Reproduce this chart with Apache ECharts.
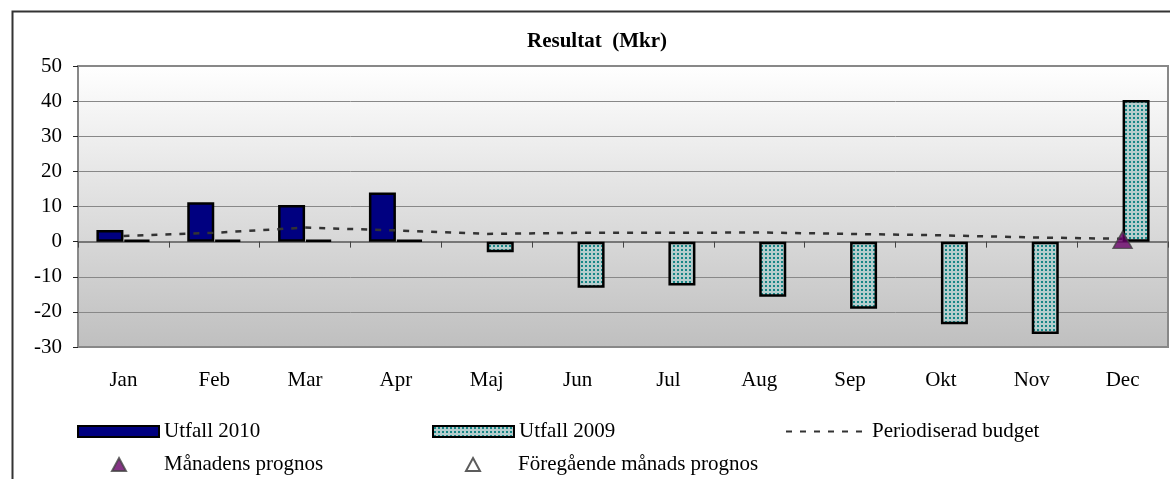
<!DOCTYPE html>
<html>
<head>
<meta charset="utf-8">
<title>Resultat (Mkr)</title>
<script src="https://cdn.jsdelivr.net/npm/echarts@6/dist/echarts.min.js"></script>
<style>
  html, body { margin: 0; padding: 0; background: #fff; }
  #chart { width: 1170px; height: 479px; }
</style>
</head>
<body>
<div id="chart"></div>
<script>
// data (Mkr)
const months = ['Jan', 'Feb', 'Mar', 'Apr', 'Maj', 'Jun', 'Jul', 'Aug', 'Sep', 'Okt', 'Nov', 'Dec']
const utfall2010 = [3.3, 11.2, 10.4, 14.0, null, null, null, null, null, null, null, null]
const utfall2009 = [0.5, 0.5, 0.5, 0.5, -3.0, -13.1, -12.5, -15.7, -19.1, -23.5, -26.3, 40.3]
const budget = [1.6, 2.5, 4.0, 3.2, 2.2, 2.5, 2.5, 2.6, 2.2, 1.8, 1.2, 0.8]
const prognos = [null, null, null, null, null, null, null, null, null, null, null, 0.5]
const prevPrognos = [null, null, null, null, null, null, null, null, null, null, null, null]

const FONT = 'Liberation Serif'
const FS = 21

// dotted teal fill like the excel pattern
const tile = document.createElement('canvas')
tile.width = 4
tile.height = 4
const tctx = tile.getContext('2d')
tctx.fillStyle = '#b6cdcd'
tctx.fillRect(0, 0, 4, 4)
tctx.fillStyle = '#168686'
tctx.fillRect(1, 1, 2, 2)
const dotted = { image: tile, repeat: 'repeat' }

const legendText = { fontFamily: FONT, fontSize: FS, color: '#000' }
const gapText = { ...legendText, rich: { gap: { width: 33 } } }

const chart = echarts.init(document.getElementById('chart'))

chart.setOption({
  backgroundColor: '#fff',
  animation: false,
  textStyle: { fontFamily: FONT },
  title: {
    text: 'Resultat  (Mkr)',
    left: 527,
    top: 31,
    padding: 0,
    textStyle: { fontFamily: FONT, fontSize: FS, fontWeight: 'bold', color: '#000' }
  },
  graphic: [
    {
      type: 'rect',
      left: 10,
      top: 9,
      shape: { width: 1200, height: 520 },
      style: { fill: 'none', stroke: '#333', lineWidth: 2 },
      silent: true
    }
  ],
  grid: {
    left: 78,
    right: 2,
    top: 66,
    bottom: 132,
    show: true,
    borderColor: '#888',
    borderWidth: 2,
    backgroundColor: {
      type: 'linear', x: 0, y: 0, x2: 0, y2: 1,
      colorStops: [
        { offset: 0, color: '#ffffff' },
        { offset: 1, color: '#bfbfbf' }
      ]
    }
  },
  legend: [
    {
      data: [{ name: 'Utfall 2010', icon: 'rect' }],
      left: 77, top: 421, padding: 0,
      itemWidth: 81, itemHeight: 11,
      selectedMode: false, textStyle: legendText
    },
    {
      data: [{ name: 'Utfall 2009', icon: 'rect' }],
      left: 432, top: 421, padding: 0,
      itemWidth: 81, itemHeight: 11,
      selectedMode: false, textStyle: legendText
    },
    {
      data: [{ name: 'Periodiserad budget' }],
      left: 785, top: 421, padding: 0,
      itemWidth: 81, itemHeight: 11,
      selectedMode: false, textStyle: legendText
    },
    {
      data: [{ name: 'Månadens prognos', icon: 'triangle' }],
      left: 111, top: 454, padding: 0,
      itemWidth: 14, itemHeight: 13,
      selectedMode: false, textStyle: gapText,
      formatter: name => '{gap| }' + name
    },
    {
      data: [{ name: 'Föregående månads prognos', icon: 'triangle' }],
      left: 465, top: 454, padding: 0,
      itemWidth: 14, itemHeight: 13,
      selectedMode: false, textStyle: gapText,
      formatter: name => '{gap| }' + name
    }
  ],
  xAxis: [
    {
      type: 'category',
      data: months,
      position: 'bottom',
      axisLine: { show: false, onZero: false },
      axisTick: { show: false },
      axisLabel: { color: '#000', fontFamily: FONT, fontSize: FS, margin: 23 }
    },
    {
      type: 'category',
      data: months,
      position: 'bottom',
      axisLine: { show: true, onZero: true, lineStyle: { color: '#777', width: 2 } },
      axisTick: { show: true, length: 6, interval: 0, lineStyle: { color: '#444', width: 1 } },
      axisLabel: { show: false }
    }
  ],
  yAxis: {
    type: 'value',
    min: -30,
    max: 50,
    interval: 10,
    axisLine: { show: true, lineStyle: { color: '#888', width: 2 } },
    axisTick: { show: true, length: 5, lineStyle: { color: '#222' } },
    axisLabel: { color: '#000', fontFamily: FONT, fontSize: FS, margin: 16 },
    splitLine: { show: true, lineStyle: { color: '#888', width: 1 } }
  },
  series: [
    {
      name: 'Utfall 2010',
      type: 'bar',
      data: utfall2010,
      barWidth: 27,
      barGap: '0%',
      itemStyle: { color: '#000080', borderColor: '#000', borderWidth: 2.5 }
    },
    {
      name: 'Utfall 2009',
      type: 'bar',
      data: utfall2009,
      barWidth: 27,
      barGap: '0%',
      itemStyle: { color: dotted, borderColor: '#000', borderWidth: 2.5 }
    },
    {
      name: 'Periodiserad budget',
      type: 'line',
      data: budget,
      symbol: 'none',
      z: 3,
      itemStyle: { color: 'rgba(0,0,0,0)' },
      lineStyle: { color: '#333', width: 2.5, type: [6, 8] }
    },
    {
      name: 'Föregående månads prognos',
      type: 'scatter',
      data: prevPrognos,
      symbol: 'triangle',
      symbolSize: [18, 16],
      z: 4,
      itemStyle: { color: '#fff', borderColor: '#333', borderWidth: 2 }
    },
    {
      name: 'Månadens prognos',
      type: 'scatter',
      data: prognos,
      symbol: 'triangle',
      symbolSize: [19, 17],
      z: 5,
      itemStyle: { color: '#660066', borderColor: '#444', borderWidth: 1.5 }
    }
  ]
})
</script>
</body>
</html>
